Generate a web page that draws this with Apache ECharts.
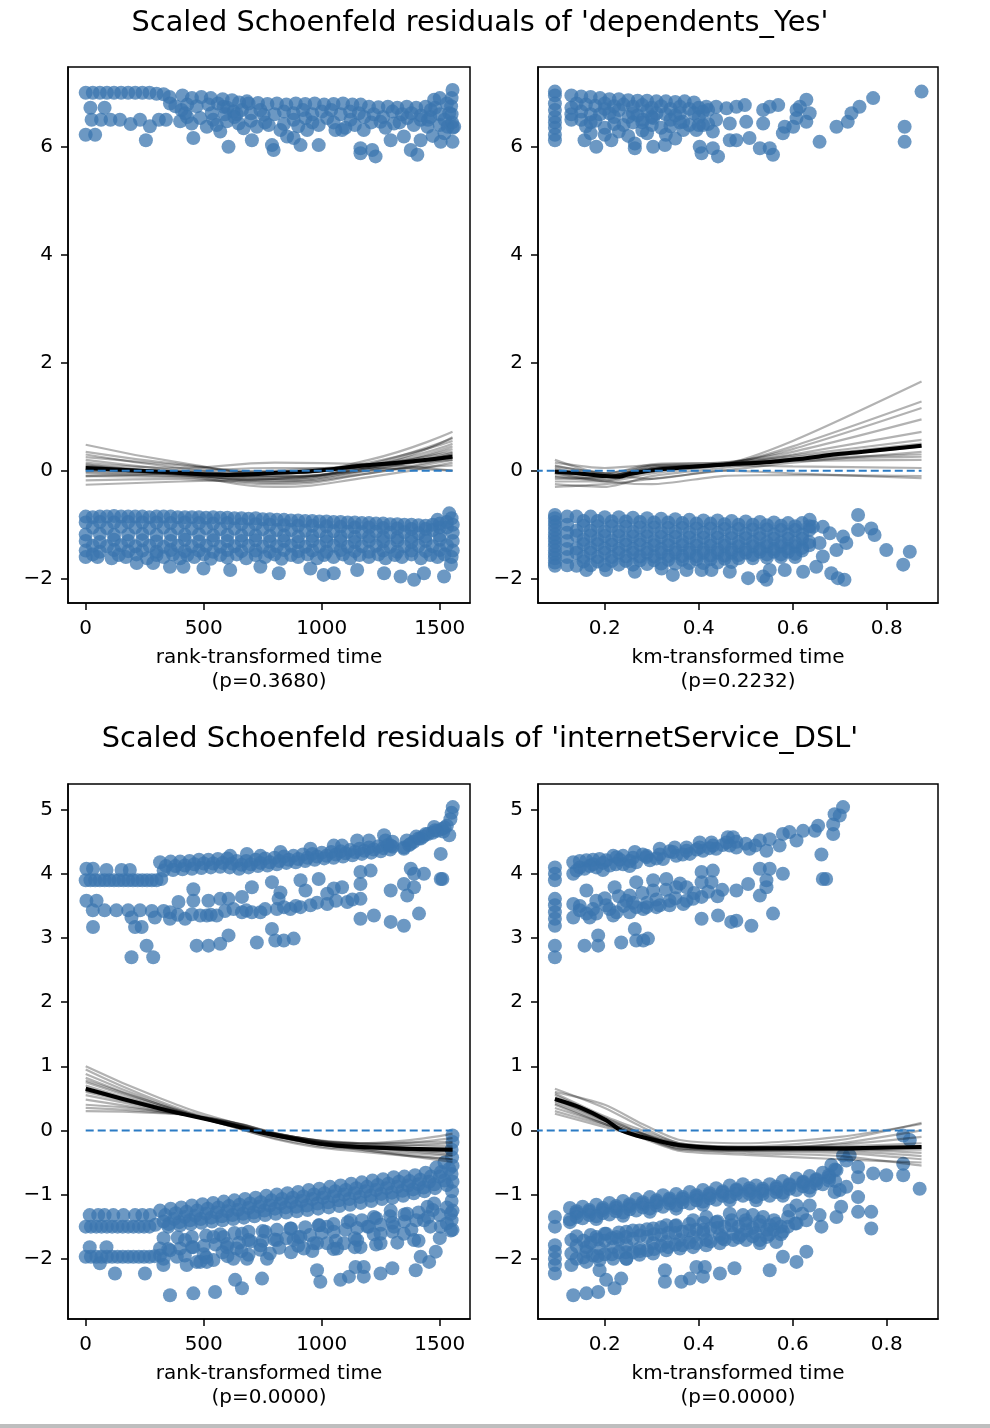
<!DOCTYPE html>
<html>
<head>
<meta charset="utf-8">
<script src="https://cdn.jsdelivr.net/npm/echarts@6.0.0/dist/echarts.min.js"></script>
<style>
html,body{margin:0;padding:0;background:#fff;}
#main{width:990px;height:1428px;}
</style>
</head>
<body>
<div id="main"></div>
<script>
// ---- titles / axis names / ticks ----
var titles = ["Scaled Schoenfeld residuals of 'dependents_Yes'", "Scaled Schoenfeld residuals of 'internetService_DSL'"];
var xNames = ['rank-transformed time\n(p=0.3680)', 'km-transformed time\n(p=0.2232)', 'rank-transformed time\n(p=0.0000)', 'km-transformed time\n(p=0.0000)'];
var rankTicks = [0, 500, 1000, 1500];
var rankTickLabels = ['0', '500', '1000', '1500'];
var kmTicks = [0.2, 0.4, 0.6, 0.8];
var kmTickLabels = ['0.2', '0.4', '0.6', '0.8'];
var depYTicks = [-2, 0, 2, 4, 6];
var depYTickLabels = ['\u22122', '0', '2', '4', '6'];
var dslYTicks = [-2, -1, 0, 1, 2, 3, 4, 5];
var dslYTickLabels = ['\u22122', '\u22121', '0', '1', '2', '3', '4', '5'];

// ---- dependents_Yes, rank-transformed ----
var depRankTop = [
 [0,7.0],[30,7.0],[60,7.0],[90,7.0],[120,7.0],[150,7.0],[180,7.0],[210,7.0],[240,7.0],[270,7.0],[300,6.98],[330,6.97],[355,6.92],
 [20,6.72],[80,6.72],[357,6.8],
 [25,6.5],[65,6.5],[105,6.5],[145,6.5],[190,6.42],[230,6.5],[272,6.38],[310,6.5],[340,6.5],
 [0,6.22],[40,6.22],[255,6.12],
 [410,6.95],[450,6.9],[490,6.92],[530,6.9],[580,6.88],[620,6.86],
 [650,6.82],[690,6.8],[730,6.81],[770,6.79],[810,6.8],[850,6.78],[890,6.8],[930,6.79],[970,6.8],[1010,6.78],[1050,6.79],[1090,6.8],[1130,6.78],[1165,6.78],
 [1200,6.74],[1240,6.73],[1280,6.74],[1320,6.72],[1360,6.74],[1400,6.72],[1440,6.74],[1480,6.72],
 [1554,7.05],[1550,6.9],[1548,6.75],[1550,6.6],[1552,6.45],[1555,6.35],
 [406,6.68],[421,6.62],[400,6.47],[449,6.43],[485,6.53],[513,6.37],[555,6.4],[598,6.47],[570,6.28],[456,6.16],[605,6.0],
 [648,6.43],[662,6.68],[669,6.34],[704,6.12],[725,6.37],[754,6.59],[775,6.4],[789,6.03],[796,5.94],[825,6.31],[853,6.19],
 [881,6.16],[881,6.5],[910,6.03],[931,6.53],[938,6.31],[987,6.03],[987,6.4],[1023,6.53],[1058,6.31],[1086,6.31],[1122,6.5],
 [1157,6.62],[1164,5.97],[1164,5.88],[1178,6.31],[1214,5.94],[1228,5.82],[1249,6.46],[1292,6.12],[1306,6.43],[1348,6.19],
 [1362,6.53],[1377,5.94],[1405,5.85],[1419,6.12],[1419,6.5],[1448,6.37],[1462,6.68],[1476,6.87],[1504,6.09],[1533,6.37],
 [1561,6.37],[1540,6.62],[534,6.62],[584,6.74],[626,6.65],[683,6.84],[1554,6.09],
 [380,6.75],[430,6.78],[470,6.75],[520,6.78],[560,6.8],[600,6.72],[640,6.6],[700,6.62],[740,6.68],[800,6.6],[840,6.65],[880,6.62],
 [920,6.68],[960,6.6],[1000,6.65],[1040,6.68],[1080,6.6],[1120,6.65],[1180,6.55],[1220,6.6],[1260,6.55],[1300,6.65],[1340,6.6],
 [1380,6.62],[1420,6.58],[1460,6.55],[1500,6.6],[1520,6.5],[1500,6.4],[1450,6.5],[1390,6.4],[1330,6.45],[1270,6.35],[1210,6.45],
 [1140,6.4],[1100,6.35],[1050,6.45],[960,6.45],[900,6.38],[840,6.42],[760,6.45],[700,6.48],[630,6.55],[590,6.6],[540,6.5],
 [430,6.55],[1520,6.25],[1470,6.2],[1530,6.8],[1500,6.9]
];
var depRankBottom = [
 [0,-0.85],[60,-0.85],[120,-0.84],[180,-0.85],[240,-0.85],[300,-0.85],[360,-0.85],[420,-0.86],[480,-0.86],[540,-0.86],[600,-0.87],[660,-0.88],[720,-0.88],[780,-0.9],[840,-0.91],[900,-0.92],[960,-0.93],[1020,-0.94],[1080,-0.95],[1140,-0.96],[1200,-0.97],[1260,-0.98],[1320,-0.99],[1380,-1.0],[1440,-1.02],[1500,-0.98],[1550,-0.88],
 [30,-0.86],[90,-0.85],[150,-0.85],[210,-0.85],[270,-0.86],[330,-0.85],[390,-0.86],[450,-0.86],[510,-0.87],[570,-0.87],[630,-0.88],[690,-0.89],[750,-0.9],[810,-0.91],[870,-0.92],[930,-0.93],[990,-0.94],[1050,-0.95],[1110,-0.96],[1170,-0.97],[1230,-0.98],[1290,-0.99],[1350,-1.0],[1410,-1.01],[1470,-1.0],[1530,-0.95],
 [0,-0.96],[60,-0.95],[120,-0.96],[180,-0.95],[240,-0.96],[300,-0.96],[360,-0.97],[420,-0.96],[480,-0.97],[540,-0.98],[600,-0.97],[660,-0.99],[720,-0.99],[780,-1.0],[840,-1.01],[900,-1.02],[960,-1.02],[1020,-1.03],[1080,-1.04],[1140,-1.05],[1200,-1.05],[1260,-1.06],[1320,-1.07],[1380,-1.08],[1440,-1.08],[1500,-1.05],[1555,-1.0],
 [30,-1.05],[90,-1.06],[150,-1.04],[210,-1.05],[270,-1.06],[330,-1.05],[390,-1.06],[450,-1.07],[510,-1.06],[570,-1.08],[630,-1.07],[690,-1.09],[750,-1.08],[810,-1.1],[870,-1.1],[930,-1.11],[990,-1.12],[1050,-1.12],[1110,-1.13],[1170,-1.14],[1230,-1.13],[1290,-1.15],[1350,-1.14],[1410,-1.16],[1470,-1.1],[1530,-1.05],
 [0,-1.18],[60,-1.17],[120,-1.19],[180,-1.18],[240,-1.17],[300,-1.19],[360,-1.18],[420,-1.19],[480,-1.18],[540,-1.2],[600,-1.19],[660,-1.2],[720,-1.2],[780,-1.21],[840,-1.2],[900,-1.22],[960,-1.21],[1020,-1.22],[1080,-1.22],[1140,-1.23],[1200,-1.22],[1260,-1.23],[1320,-1.24],[1380,-1.23],[1440,-1.22],[1500,-1.2],[1555,-1.15],
 [0,-1.3],[60,-1.32],[120,-1.28],[180,-1.3],[240,-1.29],[300,-1.31],[360,-1.3],[420,-1.28],[480,-1.31],[540,-1.29],[600,-1.3],[660,-1.3],[720,-1.29],[780,-1.31],[840,-1.3],[900,-1.32],[960,-1.3],[1020,-1.31],[1080,-1.3],[1140,-1.32],[1200,-1.3],[1260,-1.31],[1320,-1.3],[1380,-1.32],[1440,-1.3],[1500,-1.28],[1555,-1.3],
 [30,-1.39],[90,-1.4],[150,-1.38],[210,-1.4],[270,-1.39],[330,-1.41],[390,-1.39],[450,-1.4],[510,-1.39],[570,-1.41],[630,-1.4],[690,-1.39],[750,-1.41],[810,-1.4],[870,-1.39],[930,-1.41],[990,-1.4],[1050,-1.39],[1110,-1.41],[1170,-1.4],[1230,-1.39],[1290,-1.41],[1350,-1.4],[1410,-1.39],[1470,-1.4],[1530,-1.38],
 [0,-1.48],[60,-1.5],[120,-1.47],[180,-1.49],[240,-1.48],[300,-1.5],[360,-1.47],[420,-1.49],[480,-1.48],[540,-1.5],[600,-1.47],[660,-1.49],[720,-1.48],[780,-1.5],[840,-1.47],[900,-1.49],[960,-1.48],[1020,-1.5],[1080,-1.47],[1140,-1.49],[1200,-1.5],[1260,-1.48],[1320,-1.5],[1380,-1.48],[1440,-1.49],[1500,-1.47],[1555,-1.48],
 [30,-1.55],[140,-1.56],[215,-1.55],[300,-1.56],[370,-1.55],[430,-1.56],[500,-1.55],[570,-1.56],[640,-1.55],[720,-1.56],[800,-1.55],[870,-1.56],[940,-1.55],[1010,-1.56],[1090,-1.55],[1160,-1.56],[1240,-1.55],[1310,-1.56],[1380,-1.55],[1460,-1.56],[1520,-1.55],
 [0,-1.6],[50,-1.6],[110,-1.62],[170,-1.6],[260,-1.62],[330,-1.6],[400,-1.62],[460,-1.6],[530,-1.63],[600,-1.61],[680,-1.62],[760,-1.6],[830,-1.63],[900,-1.6],[980,-1.62],[1050,-1.6],[1120,-1.62],[1200,-1.6],[1270,-1.62],[1340,-1.6],[1420,-1.62],[1490,-1.6],[1550,-1.6],
 [216,-1.71],[286,-1.71],[357,-1.78],[414,-1.78],[499,-1.81],[612,-1.84],[740,-1.78],[818,-1.9],[952,-1.81],[1008,-1.93],[1051,-1.9],[1150,-1.84],[1264,-1.9],[1334,-1.96],[1391,-2.02],[1433,-1.9],[1518,-1.96],[1547,-1.74],[1540,-0.79],[1490,-0.91]
];
var depRankLowess = [[0,0.05],[314,-0.02],[598,-0.08],[810,-0.04],[1000,0.01],[1164,0.09],[1377,0.17],[1554,0.26]];
var depRankBootX = [0, 400, 800, 1200, 1554];
var depRankBootY = [
 [0.48,0.15,-0.05,0.1,0.35],[0.3,0.05,-0.1,0.05,0.45],[0.2,0.0,-0.15,0.12,0.6],[0.12,-0.02,-0.05,0.2,0.72],
 [0.08,-0.05,-0.2,0.0,0.3],[0.05,-0.08,-0.22,-0.05,0.2],[0.0,-0.05,-0.1,0.08,0.5],[-0.05,-0.1,-0.15,0.05,0.4],
 [-0.1,-0.12,-0.3,-0.12,0.15],[-0.18,-0.15,-0.25,-0.05,0.25],[-0.26,-0.2,-0.15,0.0,0.1],[0.15,0.05,0.15,0.12,0.0],
 [0.02,0.0,0.05,0.05,0.0],[0.25,0.1,-0.05,0.15,0.55],[-0.1,-0.05,0.0,0.1,0.2],[0.1,-0.03,-0.12,0.05,0.3],
 [0.35,0.12,-0.02,0.1,0.62],[-0.02,-0.08,-0.18,0.02,0.33]
];

// ---- dependents_Yes, km-transformed ----
var depKmTop = [
 [0.094,7.02],[0.094,6.95],[0.094,6.8],[0.094,6.68],[0.094,6.55],[0.094,6.45],[0.094,6.35],[0.094,6.22],[0.094,6.12],
 [0.129,6.95],[0.129,6.72],[0.129,6.6],[0.129,6.5],
 [0.15,6.93],[0.17,6.92],[0.19,6.9],[0.21,6.88],[0.23,6.88],[0.25,6.86],[0.27,6.85],[0.29,6.85],[0.31,6.84],[0.33,6.84],[0.35,6.83],[0.37,6.84],[0.39,6.82],
 [0.15,6.5],[0.17,6.45],[0.19,6.6],[0.2,6.7],[0.22,6.55],[0.24,6.4],[0.26,6.62],[0.28,6.45],[0.3,6.55],[0.32,6.35],[0.34,6.5],[0.36,6.62],[0.38,6.4],[0.4,6.55],[0.42,6.42],
 [0.157,6.12],[0.182,6.0],[0.214,6.12],[0.264,5.97],[0.264,6.06],[0.303,6.0],[0.328,6.03],[0.281,6.5],[0.303,6.53],[0.367,6.31],[0.395,6.31],[0.367,6.46],
 [0.409,6.65],[0.43,6.28],[0.402,6.0],[0.406,5.88],[0.43,5.97],[0.441,5.82],[0.466,6.12],[0.48,6.12],[0.508,6.16],[0.53,5.97],[0.551,5.97],[0.558,5.85],
 [0.579,6.25],[0.583,6.37],[0.608,6.53],[0.629,6.46],[0.601,6.37],[0.537,6.43],[0.501,6.46],[0.466,6.43],[0.437,6.5],[0.409,6.4],
 [0.416,6.74],[0.437,6.74],[0.459,6.71],[0.48,6.74],[0.498,6.77],[0.537,6.68],[0.551,6.74],[0.569,6.77],[0.608,6.68],[0.615,6.74],[0.629,6.87],[0.636,6.62],
 [0.657,6.09],[0.693,6.37],[0.717,6.46],[0.725,6.62],[0.742,6.74],[0.771,6.9],[0.838,6.37],[0.838,6.09],[0.874,7.02],
 [0.14,6.8],[0.16,6.78],[0.18,6.76],[0.2,6.8],[0.22,6.75],[0.24,6.78],[0.26,6.74],[0.28,6.77],[0.3,6.72],[0.32,6.75],[0.34,6.7],[0.36,6.74],[0.38,6.7],[0.4,6.72],[0.42,6.68],
 [0.15,6.65],[0.17,6.6],[0.21,6.62],[0.23,6.68],[0.25,6.55],[0.27,6.58],[0.29,6.66],[0.31,6.62],[0.33,6.6],[0.35,6.58],[0.39,6.62],
 [0.16,6.38],[0.18,6.48],[0.2,6.35],[0.22,6.42],[0.26,6.45],[0.28,6.3],[0.3,6.4],[0.34,6.38],[0.36,6.45],[0.4,6.4],
 [0.17,6.25],[0.2,6.22],[0.23,6.28],[0.25,6.2],[0.29,6.25],[0.33,6.22],[0.35,6.15]
];
var depKmBottom = [
 [0.094,-0.82],[0.094,-0.95],[0.094,-1.1],[0.094,-1.25],[0.094,-1.4],[0.094,-1.55],[0.094,-1.7],
 [0.094,-0.88],[0.094,-1.02],[0.094,-1.18],[0.094,-1.32],[0.094,-1.48],[0.094,-1.62],[0.094,-1.76],
 [0.12,-0.85],[0.12,-1.0],[0.12,-1.15],[0.12,-1.3],[0.12,-1.45],[0.12,-1.6],[0.12,-1.75],
 [0.14,-0.85],[0.17,-0.85],[0.2,-0.86],[0.23,-0.86],[0.26,-0.87],[0.29,-0.88],[0.32,-0.89],[0.35,-0.9],[0.38,-0.91],[0.41,-0.92],[0.44,-0.92],[0.47,-0.93],[0.5,-0.94],[0.53,-0.95],[0.56,-0.96],[0.59,-0.97],[0.62,-0.97],
 [0.155,-0.93],[0.185,-0.93],[0.215,-0.94],[0.245,-0.94],[0.275,-0.95],[0.305,-0.96],[0.335,-0.96],[0.365,-0.97],[0.395,-0.98],[0.425,-0.98],[0.455,-0.99],[0.485,-1.0],[0.515,-1.0],[0.545,-1.01],[0.575,-1.02],[0.605,-1.03],[0.635,-1.03],
 [0.155,-1.02],[0.185,-1.03],[0.215,-1.03],[0.245,-1.04],[0.275,-1.05],[0.305,-1.05],[0.335,-1.06],[0.365,-1.06],[0.395,-1.07],[0.425,-1.07],[0.455,-1.08],[0.485,-1.08],[0.515,-1.09],[0.545,-1.09],[0.575,-1.1],[0.605,-1.1],[0.635,-1.1],
 [0.14,-1.11],[0.17,-1.11],[0.2,-1.12],[0.23,-1.12],[0.26,-1.13],[0.29,-1.13],[0.32,-1.14],[0.35,-1.14],[0.38,-1.15],[0.41,-1.15],[0.44,-1.16],[0.47,-1.16],[0.5,-1.17],[0.53,-1.17],[0.56,-1.18],[0.59,-1.18],[0.62,-1.18],
 [0.14,-1.2],[0.17,-1.2],[0.2,-1.21],[0.23,-1.21],[0.26,-1.22],[0.29,-1.22],[0.32,-1.23],[0.35,-1.23],[0.38,-1.24],[0.41,-1.24],[0.44,-1.24],[0.47,-1.25],[0.5,-1.25],[0.53,-1.25],[0.56,-1.26],[0.59,-1.26],[0.62,-1.26],
 [0.155,-1.28],[0.185,-1.28],[0.215,-1.29],[0.245,-1.29],[0.275,-1.29],[0.305,-1.3],[0.335,-1.3],[0.365,-1.31],[0.395,-1.31],[0.425,-1.31],[0.455,-1.32],[0.485,-1.32],[0.515,-1.32],[0.545,-1.33],[0.575,-1.33],[0.605,-1.33],[0.635,-1.32],
 [0.155,-1.36],[0.185,-1.36],[0.215,-1.37],[0.245,-1.37],[0.275,-1.37],[0.305,-1.38],[0.335,-1.38],[0.365,-1.38],[0.395,-1.39],[0.425,-1.39],[0.455,-1.39],[0.485,-1.4],[0.515,-1.4],[0.545,-1.4],[0.575,-1.4],[0.605,-1.4],[0.635,-1.38],
 [0.14,-1.44],[0.17,-1.44],[0.2,-1.44],[0.23,-1.45],[0.26,-1.45],[0.29,-1.45],[0.32,-1.45],[0.35,-1.46],[0.38,-1.46],[0.41,-1.46],[0.44,-1.46],[0.47,-1.46],[0.5,-1.46],[0.53,-1.45],[0.56,-1.45],[0.59,-1.44],[0.62,-1.43],
 [0.14,-1.52],[0.17,-1.52],[0.2,-1.52],[0.23,-1.52],[0.26,-1.52],[0.29,-1.52],[0.32,-1.52],[0.35,-1.52],[0.38,-1.52],[0.41,-1.52],[0.44,-1.52],[0.47,-1.52],[0.5,-1.52],[0.53,-1.5],[0.56,-1.5],[0.59,-1.5],[0.62,-1.48],
 [0.155,-1.6],[0.185,-1.6],[0.215,-1.6],[0.245,-1.59],[0.275,-1.59],[0.305,-1.59],[0.335,-1.58],[0.365,-1.58],[0.395,-1.58],[0.425,-1.57],[0.455,-1.57],[0.485,-1.56],[0.515,-1.56],[0.545,-1.55],[0.575,-1.55],[0.605,-1.54],
 [0.155,-1.68],[0.185,-1.68],[0.215,-1.67],[0.245,-1.67],[0.275,-1.66],[0.305,-1.66],[0.335,-1.65],[0.365,-1.65],[0.395,-1.64],[0.425,-1.64],[0.455,-1.63],[0.485,-1.62],[0.515,-1.62],[0.545,-1.61],[0.575,-1.6],[0.605,-1.6],
 [0.14,-1.76],[0.17,-1.75],[0.2,-1.75],[0.23,-1.74],[0.26,-1.74],[0.29,-1.73],[0.32,-1.72],[0.35,-1.72],[0.38,-1.71],[0.41,-1.71],[0.44,-1.7],[0.47,-1.69],
 [0.636,-0.91],[0.643,-1.04],[0.664,-1.04],[0.679,-1.16],[0.693,-1.47],[0.714,-1.34],[0.707,-1.22],[0.739,-0.82],[0.739,-1.1],[0.767,-1.07],[0.774,-1.19],[0.799,-1.47],[0.849,-1.5],[0.835,-1.74],[0.657,-1.34],[0.664,-1.59],
 [0.264,-1.87],[0.321,-1.81],[0.345,-1.93],[0.374,-1.84],[0.406,-1.84],[0.427,-1.84],[0.466,-1.87],[0.505,-1.99],[0.537,-1.96],[0.544,-2.02],[0.551,-1.84],[0.583,-1.84],[0.622,-1.87],[0.65,-1.78],[0.682,-1.9],[0.696,-1.99],[0.71,-2.02],[0.161,-1.84],[0.203,-1.84]
];
var depKmLowess = [[0.094,-0.02],[0.147,-0.05],[0.2,-0.1],[0.232,-0.11],[0.253,-0.06],[0.324,0.03],[0.395,0.08],[0.466,0.12],[0.537,0.15],[0.608,0.21],[0.679,0.29],[0.749,0.35],[0.874,0.46]];
var depKmBootX = [0.094, 0.2, 0.3, 0.45, 0.6, 0.874];
var depKmBootY = [
 [0.2,-0.05,0.08,0.12,0.55,1.65],[-0.1,-0.15,0.0,0.1,0.45,1.28],[0.05,-0.1,0.05,0.12,0.4,1.16],[-0.05,-0.12,0.1,0.15,0.35,0.95],
 [-0.2,-0.2,-0.05,0.1,0.3,0.72],[0.1,-0.05,0.12,0.15,0.28,0.57],[-0.25,-0.3,-0.1,0.05,0.2,0.45],[-0.3,-0.25,-0.15,0.0,0.15,0.35],
 [0.0,-0.08,0.02,0.12,0.2,0.26],[-0.15,-0.12,0.05,0.12,0.18,0.2],[0.15,0.05,0.1,0.1,0.08,0.05],[-0.05,-0.2,-0.25,-0.1,-0.08,-0.1],
 [0.08,-0.05,-0.15,0.0,-0.05,-0.14],[-0.12,-0.18,0.0,0.1,0.22,0.3],[0.02,-0.1,0.04,0.12,0.25,0.5]
];

// ---- internetService_DSL, rank-transformed ----
var dslRankTop = [
 [0,3.9],[40,3.9],[80,3.9],[120,3.9],[160,3.9],[200,3.9],[240,3.9],[280,3.9],[320,3.92],
 [20,3.9],[60,3.9],[100,3.9],[140,3.9],[180,3.9],[220,3.9],[260,3.9],[300,3.9],
 [3,4.08],[31,4.08],[88,4.06],[152,4.06],[187,4.06],
 [315,4.18],[360,4.19],[400,4.19],[440,4.2],[480,4.22],[520,4.22],[560,4.23],[600,4.24],[640,4.2],[680,4.2],[720,4.22],[760,4.24],[800,4.25],[840,4.27],[880,4.28],[920,4.3],[960,4.31],[1000,4.33],[1040,4.34],[1080,4.35],[1120,4.37],[1160,4.39],[1200,4.41],[1240,4.43],[1280,4.45],[1300,4.5],
 [340,4.12],[380,4.12],[420,4.13],[460,4.15],[500,4.16],[540,4.16],[580,4.17],[620,4.16],[660,4.14],[700,4.15],[740,4.17],[780,4.18],[820,4.2],[860,4.22],[900,4.23],[940,4.25],[980,4.27],[1020,4.28],[1060,4.3],[1100,4.32],[1140,4.34],[1180,4.36],[1220,4.38],[1260,4.4],[1300,4.42],
 [330,4.05],[370,4.06],[410,4.07],[450,4.08],[490,4.09],[530,4.1],[570,4.11],[610,4.1],[650,4.08],[690,4.1],[730,4.12],[770,4.13],[810,4.15],[850,4.17],[890,4.18],[930,4.2],[970,4.22],[1010,4.24],[1050,4.25],[1090,4.27],[1130,4.29],[1170,4.31],[1210,4.33],[1250,4.35],[1290,4.38],
 [612,4.28],[683,4.31],[740,4.28],[825,4.34],[952,4.39],[1051,4.44],[1086,4.44],[1150,4.52],[1200,4.52],[1264,4.6],[1270,4.52],[1292,4.44],
 [1348,4.41],[1370,4.45],[1390,4.5],[1410,4.55],[1430,4.58],[1450,4.62],[1470,4.64],[1490,4.67],[1510,4.7],[1530,4.75],[1545,4.85],[1550,4.95],[1555,5.04],[1540,4.6],[1515,4.66],
 [1360,4.52],[1400,4.58],[1440,4.62],[1480,4.68],[1520,4.72],
 [1348,4.39],[1377,4.47],[1419,4.55],[1476,4.73],[1504,4.31],[1511,3.92],
 [1377,4.08],[1391,4.0],[1433,4.0],[1362,3.66],[1391,3.79],[1348,3.84],[1292,3.74],[1164,4.03],[1207,4.05],[1164,3.84],
 [3,3.58],[46,3.58],[30,3.43],[80,3.43],[130,3.43],[180,3.43],[230,3.43],[280,3.42],[330,3.42],
 [31,3.17],[194,3.32],[209,3.17],[237,3.17],[258,2.88],[286,2.7],[194,2.7],[293,3.32],[357,3.4],[357,3.3],[393,3.56],[421,3.3],
 [456,3.76],[456,3.58],[485,3.35],[513,3.35],[555,3.35],[520,3.58],[570,3.61],[605,3.61],[626,3.45],[662,3.4],[662,3.64],[704,3.79],
 [704,3.4],[740,3.4],[789,3.87],[825,3.71],[817,3.61],[810,3.45],[867,3.45],[910,3.9],[931,3.74],[910,3.48],[952,3.51],[987,3.92],
 [1023,3.69],[1023,3.53],[1051,3.77],[1086,3.79],[1108,3.56],[1164,3.61],
 [390,3.36],[450,3.37],[530,3.36],[590,3.42],[680,3.43],[760,3.45],[840,3.48],[890,3.5],[980,3.55],[1060,3.58],[1130,3.6],
 [470,2.88],[520,2.88],[570,2.91],[605,3.04],[725,2.93],[789,3.14],[803,2.96],[839,2.96],[881,2.99],[1164,3.3],[1221,3.35],[1292,3.25],[1348,3.19],[1412,3.38],[1504,3.92]
];
var dslRankBottom = [
 [315,-1.25],[360,-1.22],[405,-1.2],[450,-1.17],[495,-1.15],[540,-1.13],[585,-1.11],[630,-1.09],[675,-1.07],[720,-1.05],[765,-1.02],[810,-1.0],[855,-0.98],[900,-0.96],[945,-0.93],[990,-0.91],[1035,-0.88],[1080,-0.86],[1125,-0.83],[1170,-0.81],[1215,-0.78],[1260,-0.76],[1305,-0.73],[1350,-0.72],[1395,-0.7],[1440,-0.66],[1485,-0.58],[1520,-0.5],
 [337,-1.32],[382,-1.29],[427,-1.27],[472,-1.25],[517,-1.22],[562,-1.2],[607,-1.18],[652,-1.16],[697,-1.14],[742,-1.12],[787,-1.09],[832,-1.07],[877,-1.05],[922,-1.03],[967,-1.0],[1012,-0.98],[1057,-0.95],[1102,-0.93],[1147,-0.9],[1192,-0.88],[1237,-0.85],[1282,-0.83],[1327,-0.8],[1372,-0.79],[1417,-0.77],[1462,-0.72],[1505,-0.65],
 [0,-1.5],[45,-1.5],[90,-1.5],[135,-1.5],[180,-1.5],[225,-1.5],[270,-1.5],[330,-1.42],[375,-1.38],[420,-1.35],[465,-1.33],[510,-1.3],[555,-1.28],[600,-1.26],[645,-1.24],[690,-1.21],[735,-1.19],[780,-1.17],[825,-1.14],[870,-1.12],[915,-1.1],[960,-1.07],[1005,-1.05],[1050,-1.03],[1095,-1.0],[1140,-0.98],[1185,-0.95],[1230,-0.93],[1275,-0.9],[1320,-0.88],[1365,-0.86],[1410,-0.84],[1455,-0.8],[1500,-0.72],[1540,-0.6],
 [22,-1.5],[67,-1.5],[112,-1.5],[157,-1.5],[202,-1.5],[247,-1.5],[295,-1.47],
 [17,-1.32],[53,-1.32],[80,-1.32],[117,-1.32],[160,-1.32],[209,-1.32],[240,-1.32],[272,-1.32],
 [352,-1.46],[397,-1.43],[442,-1.4],[487,-1.38],[532,-1.36],[577,-1.34],[622,-1.32],[667,-1.3],[712,-1.28],[757,-1.25],[802,-1.22],[847,-1.2],[892,-1.19],[937,-1.17],[982,-1.14],[1027,-1.12],[1072,-1.09],[1117,-1.07],[1162,-1.04],[1207,-1.02],[1252,-0.99],[1297,-0.97],[1342,-0.94],[1387,-0.92],[1432,-0.89],[1477,-0.84],[1520,-0.78],
 [350,-1.5],[400,-1.48],[445,-1.46],[490,-1.44],[535,-1.42],[580,-1.4],[625,-1.38],[670,-1.36],[715,-1.34],[760,-1.32],[805,-1.3],[850,-1.28],[895,-1.26],[940,-1.24],[985,-1.22],[1030,-1.2],[1075,-1.18],[1120,-1.16],[1165,-1.13],[1210,-1.1],[1255,-1.07],[1300,-1.05],[1345,-1.02],[1390,-0.98],[1435,-0.95],[1480,-0.9],[1530,-0.85],
 [1554,-0.08],[1554,-0.18],[1550,-0.3],[1552,-0.42],[1554,-0.55],[1550,-0.68],[1554,-0.8],[1552,-0.95],[1550,-1.1],[1554,-1.25],[1550,-1.4],[1554,-1.55],
 [0,-1.97],[45,-1.97],[90,-1.97],[135,-1.97],[180,-1.97],[225,-1.97],[270,-1.97],[315,-1.95],[17,-1.82],[88,-1.82],[60,-2.07],[124,-2.23],[251,-2.23],
 [22,-1.97],[67,-1.97],[112,-1.97],[157,-1.97],[202,-1.97],[247,-1.97],[292,-1.96],
 [330,-1.68],[390,-1.67],[450,-1.66],[510,-1.64],[570,-1.62],[630,-1.6],[690,-1.58],[750,-1.57],[810,-1.55],[870,-1.53],[930,-1.51],[990,-1.48],[1050,-1.46],[1110,-1.43],[1170,-1.4],[1230,-1.37],[1290,-1.34],[1350,-1.31],[1410,-1.28],[1470,-1.24],[1530,-1.2],
 [350,-1.85],[400,-1.84],[450,-1.82],[500,-1.8],[550,-1.78],[600,-1.77],[650,-1.75],[700,-1.73],[750,-1.72],[800,-1.7],[850,-1.68],[900,-1.66],[950,-1.63],[1000,-1.6],[1050,-1.58],[1100,-1.55],[1150,-1.52],[1200,-1.5],[1250,-1.47],[1300,-1.44],[1350,-1.42],[1400,-1.4],[1450,-1.35],[1500,-1.32],
 [420,-1.95],[500,-1.93],[580,-1.9],[660,-1.88],[740,-1.86],[820,-1.83],[900,-1.8],[980,-1.76],[1060,-1.72],[1140,-1.68],[1220,-1.62],[1300,-1.58],[1380,-1.55],[1460,-1.5],[1530,-1.45],
 [330,-2.0],[510,-1.98],[600,-1.96],[690,-1.94],[780,-1.92],[870,-1.9],[960,-1.88],[1050,-1.85],[1140,-1.82],[1230,-1.78],[1320,-1.75],[1410,-1.72],[1500,-1.68],
 [315,-1.84],[357,-1.87],[386,-1.97],[421,-1.71],[428,-2.1],[456,-1.82],[470,-2.05],[513,-2.05],[541,-2.02],[541,-1.66],[584,-1.66],[598,-1.82],
 [626,-2.0],[640,-1.84],[662,-1.61],[683,-2.0],[690,-1.71],[740,-1.79],[768,-2.0],[761,-1.58],[810,-1.71],[881,-1.71],[867,-1.53],[910,-1.66],
 [924,-1.84],[966,-1.76],[987,-1.48],[1023,-1.5],[1023,-1.76],[1065,-1.84],[1094,-1.76],[1122,-1.4],[1150,-1.71],[1193,-1.5],[1221,-1.35],
 [1249,-1.61],[1292,-1.25],[1306,-1.5],[1362,-1.3],[1348,-1.61],[1391,-1.71],[1448,-1.19],[1476,-1.14],[1504,-1.5],[1547,-1.3],[1547,-1.56],
 [1433,-1.4],[1249,-1.76],[1164,-1.82],
 [357,-2.57],[456,-2.54],[548,-2.52],[633,-2.33],[662,-2.46],[747,-2.31],[980,-2.18],[994,-2.36],[1079,-2.33],[1115,-2.28],[1143,-2.13],
 [1178,-2.13],[1178,-2.28],[1249,-2.23],[1299,-2.15],[1398,-2.18],[1419,-1.97],[1455,-2.05],[1483,-1.89],[329,-2.1],[485,-2.05]
];
var dslRankLowess = [[0,0.65],[315,0.34],[598,0.1],[740,-0.03],[881,-0.13],[994,-0.21],[1164,-0.26],[1554,-0.3]];
var dslRankBootX = [0, 315, 598, 881, 1164, 1554];
var dslRankBootY = [
 [1.0,0.5,0.15,-0.1,-0.2,-0.25],[0.95,0.45,0.12,-0.12,-0.25,-0.35],[0.88,0.42,0.1,-0.15,-0.3,-0.45],[0.82,0.4,0.12,-0.1,-0.22,-0.3],
 [0.75,0.38,0.1,-0.14,-0.28,-0.4],[0.7,0.36,0.12,-0.1,-0.2,-0.18],[0.6,0.33,0.1,-0.15,-0.27,-0.32],[0.55,0.32,0.12,-0.12,-0.25,-0.2],
 [0.48,0.3,0.14,-0.1,-0.2,-0.05],[0.4,0.3,0.12,-0.15,-0.3,-0.49],[0.35,0.28,0.15,-0.12,-0.25,-0.38],[0.3,0.27,0.14,-0.1,-0.22,-0.12],
 [0.62,0.36,0.08,-0.2,-0.33,-0.45],[0.78,0.4,0.08,-0.18,-0.28,-0.28]
];

// ---- internetService_DSL, km-transformed ----
var dslKmTop = [
 [0.094,4.1],[0.094,4.0],[0.094,3.9],[0.094,3.61],[0.094,3.51],[0.094,3.4],[0.094,3.3],[0.094,3.19],[0.094,2.88],[0.094,2.7],
 [0.133,4.18],[0.161,4.21],[0.189,4.23],[0.218,4.28],[0.239,4.28],[0.264,4.34],[0.289,4.28],[0.317,4.39],[0.349,4.41],[0.374,4.41],[0.402,4.49],[0.427,4.49],[0.462,4.57],[0.473,4.57],
 [0.133,4.0],[0.157,4.08],[0.182,4.1],[0.211,4.13],[0.239,4.15],[0.267,4.18],[0.296,4.21],[0.324,4.23],[0.352,4.28],[0.381,4.31],[0.409,4.36],[0.437,4.39],[0.466,4.44],[0.48,4.41],
 [0.147,4.1],[0.175,4.15],[0.203,4.21],[0.232,4.22],[0.26,4.25],[0.289,4.26],[0.317,4.3],[0.345,4.34],[0.374,4.36],[0.402,4.41],[0.43,4.44],[0.459,4.49],
 [0.147,4.2],[0.175,4.22],[0.196,4.17],[0.225,4.26],[0.253,4.2],[0.281,4.3],[0.31,4.24],[0.338,4.35],[0.366,4.3],[0.395,4.38],[0.423,4.4],[0.451,4.45],[0.48,4.5],[0.5,4.47],[0.52,4.44],
 [0.14,4.05],[0.168,4.12],[0.196,4.06],[0.224,4.15],[0.253,4.12],
 [0.508,4.39],[0.53,4.52],[0.544,4.36],[0.551,4.54],[0.572,4.44],[0.579,4.62],[0.593,4.65],[0.608,4.52],[0.622,4.67],[0.647,4.67],[0.654,4.75],[0.686,4.62],[0.686,4.77],[0.689,4.93],[0.707,5.04],[0.7,4.91],[0.661,4.3],[0.671,3.92],
 [0.133,3.53],[0.133,3.32],[0.161,3.74],[0.161,3.38],[0.182,3.58],[0.182,3.38],[0.203,3.51],[0.221,3.79],[0.225,3.4],[0.246,3.58],[0.253,3.66],[0.267,3.87],[0.267,3.48],[0.289,3.48],
 [0.303,3.9],[0.303,3.74],[0.317,3.51],[0.331,3.92],[0.338,3.58],[0.352,3.79],[0.374,3.79],[0.374,3.58],[0.388,3.61],[0.406,4.03],[0.406,3.87],[0.43,4.05],[0.427,3.87],[0.406,3.64],
 [0.48,3.74],[0.505,3.84],[0.53,4.08],[0.53,3.66],[0.551,4.08],[0.544,3.9],[0.544,3.79],[0.579,4.0],[0.558,3.38],[0.512,3.19],[0.469,3.25],[0.48,3.27],[0.441,3.35],[0.406,3.3],[0.664,3.92],
 [0.218,3.35],[0.253,3.4],[0.282,3.45],[0.31,3.48],[0.338,3.51],[0.367,3.53],[0.147,3.43],[0.168,3.32],
 [0.147,3.5],[0.175,3.45],[0.21,3.45],[0.24,3.5],[0.26,3.55],[0.29,3.55],[0.31,3.6],[0.35,3.62],[0.39,3.7],[0.42,3.72],[0.45,3.75],[0.2,3.62],[0.23,3.65],[0.28,3.7],[0.33,3.75],[0.36,3.85],[0.44,3.65],
 [0.157,2.88],[0.186,2.88],[0.186,3.04],[0.235,2.93],[0.264,3.14],[0.267,2.96],[0.282,2.96],[0.292,2.99]
];
var dslKmBottom = [
 [0.094,-1.35],[0.094,-1.5],[0.094,-1.79],[0.094,-1.89],[0.094,-2.0],[0.094,-2.1],[0.094,-2.23],
 [0.126,-1.21],[0.153,-1.19],[0.182,-1.16],[0.21,-1.13],[0.239,-1.1],[0.267,-1.07],[0.296,-1.04],[0.324,-1.01],[0.352,-0.99],[0.381,-0.96],[0.409,-0.93],[0.437,-0.9],[0.466,-0.86],[0.494,-0.84],[0.522,-0.86],[0.551,-0.84],[0.579,-0.79],[0.608,-0.75],[0.636,-0.71],[0.664,-0.66],[0.69,-0.61],
 [0.14,-1.26],[0.167,-1.24],[0.196,-1.21],[0.224,-1.18],[0.253,-1.15],[0.281,-1.12],[0.31,-1.09],[0.338,-1.06],[0.366,-1.04],[0.395,-1.01],[0.423,-0.98],[0.451,-0.95],[0.48,-0.92],[0.508,-0.9],[0.536,-0.91],[0.565,-0.88],[0.593,-0.84],[0.622,-0.8],[0.65,-0.76],[0.677,-0.7],
 [0.14,-1.29],[0.167,-1.27],[0.196,-1.24],[0.224,-1.21],[0.253,-1.18],[0.281,-1.15],[0.31,-1.12],[0.338,-1.09],[0.366,-1.07],[0.395,-1.04],[0.423,-1.01],[0.451,-0.97],[0.48,-0.94],[0.508,-0.94],[0.536,-0.94],[0.565,-0.91],[0.593,-0.86],[0.622,-0.82],[0.65,-0.78],[0.677,-0.73],
 [0.14,-1.35],[0.167,-1.32],[0.196,-1.29],[0.224,-1.26],[0.253,-1.23],[0.281,-1.2],[0.31,-1.17],[0.338,-1.14],[0.366,-1.12],[0.395,-1.09],[0.423,-1.06],[0.451,-1.02],[0.48,-0.99],[0.508,-0.99],[0.536,-0.99],[0.565,-0.96],[0.593,-0.91],[0.622,-0.87],[0.65,-0.83],[0.677,-0.78],
 [0.126,-1.39],[0.153,-1.37],[0.182,-1.34],[0.21,-1.31],[0.239,-1.28],[0.267,-1.25],[0.296,-1.22],[0.324,-1.19],[0.352,-1.17],[0.381,-1.14],[0.409,-1.11],[0.437,-1.08],[0.466,-1.04],[0.494,-1.02],[0.522,-1.04],[0.551,-1.02],[0.579,-0.97],[0.608,-0.93],[0.636,-0.89],[0.664,-0.84],[0.69,-0.79],
 [0.126,-1.43],[0.182,-1.38],[0.239,-1.33],[0.296,-1.27],[0.352,-1.22],[0.409,-1.16],[0.466,-1.09],[0.522,-1.09],[0.579,-1.02],[0.636,-0.94],
 [0.129,-1.71],[0.161,-1.82],[0.182,-1.66],[0.203,-1.61],[0.225,-1.66],[0.246,-1.58],[0.274,-1.56],[0.303,-1.53],[0.331,-1.48],[0.352,-1.48],[0.388,-1.4],[0.416,-1.35],[0.437,-1.43],[0.466,-1.3],[0.494,-1.32],[0.515,-1.32],[0.537,-1.35],[0.565,-1.45],[0.593,-1.25],[0.608,-1.17],[0.636,-1.17],[0.657,-1.32],
 [0.14,-1.65],[0.17,-1.63],[0.2,-1.61],[0.23,-1.59],[0.26,-1.56],[0.29,-1.54],[0.32,-1.51],[0.35,-1.49],[0.38,-1.46],[0.41,-1.44],[0.44,-1.42],[0.47,-1.4],[0.5,-1.4],[0.53,-1.42],[0.56,-1.4],[0.59,-1.35],[0.62,-1.3],
 [0.155,-1.72],[0.185,-1.7],[0.215,-1.68],[0.245,-1.66],[0.275,-1.64],[0.305,-1.62],[0.335,-1.6],[0.365,-1.58],[0.395,-1.55],[0.425,-1.53],[0.455,-1.5],[0.485,-1.5],[0.515,-1.52],[0.545,-1.55],[0.575,-1.5],[0.605,-1.45],
 [0.14,-1.8],[0.17,-1.75],[0.2,-1.72],[0.23,-1.7],[0.26,-1.69],[0.29,-1.66],[0.32,-1.63],[0.35,-1.6],[0.38,-1.56],[0.41,-1.55],[0.44,-1.52],[0.47,-1.48],[0.5,-1.45],[0.53,-1.48],[0.56,-1.55],[0.59,-1.5],
 [0.129,-1.92],[0.161,-1.89],[0.189,-1.84],[0.218,-1.82],[0.246,-1.79],[0.274,-1.84],[0.303,-1.76],[0.331,-1.74],[0.36,-1.71],[0.388,-1.66],[0.416,-1.71],[0.445,-1.63],[0.473,-1.61],[0.501,-1.56],[0.53,-1.71],[0.551,-1.48],[0.579,-1.58],[0.608,-1.45],[0.629,-1.4],
 [0.155,-1.98],[0.185,-1.96],[0.215,-1.93],[0.245,-1.9],[0.275,-1.88],[0.305,-1.85],[0.335,-1.82],[0.365,-1.79],[0.395,-1.76],[0.425,-1.73],[0.455,-1.7],[0.485,-1.67],[0.515,-1.65],[0.545,-1.66],[0.575,-1.62],
 [0.14,-2.0],[0.175,-1.95],[0.2,-1.93],[0.23,-1.9],[0.26,-1.9],[0.29,-1.87],[0.32,-1.8],[0.35,-1.78],[0.38,-1.75],[0.41,-1.6],[0.45,-1.68],[0.49,-1.63],[0.52,-1.6],[0.55,-1.62],
 [0.129,-2.1],[0.161,-2.05],[0.189,-2.02],[0.218,-2.0],[0.246,-2.0],[0.274,-1.94],[0.303,-1.92],[0.331,-1.87],[0.36,-1.84],[0.388,-1.82],[0.416,-1.79],[0.445,-1.76],[0.473,-1.71],[0.501,-1.71],[0.53,-1.76],[0.565,-1.74],[0.189,-2.18],
 [0.693,-0.62],[0.7,-0.93],[0.714,-0.88],[0.739,-0.57],[0.739,-0.73],[0.739,-1.04],[0.739,-1.27],[0.767,-1.27],[0.767,-1.53],[0.771,-0.67],[0.799,-0.7],[0.835,-0.52],[0.835,-0.7],[0.835,-0.08],[0.849,-0.15],[0.87,-0.91],
 [0.689,-0.96],[0.661,-1.5],[0.693,-1.35],[0.703,-1.19],[0.707,-0.39],[0.721,-0.39],[0.714,-0.47],[0.682,-0.54],
 [0.133,-2.57],[0.161,-2.54],[0.186,-2.52],[0.203,-2.33],[0.221,-2.46],[0.235,-2.31],[0.328,-2.18],[0.328,-2.36],[0.363,-2.36],[0.381,-2.31],[0.395,-2.13],[0.413,-2.13],[0.409,-2.28],[0.445,-2.23],[0.476,-2.15],[0.551,-2.18],[0.579,-1.97],[0.608,-2.05],[0.629,-1.89],[0.246,-2.0]
];
var dslKmLowess = [[0.094,0.49],[0.147,0.36],[0.203,0.16],[0.232,0.01],[0.267,-0.08],[0.324,-0.18],[0.36,-0.23],[0.43,-0.27],[0.537,-0.28],[0.679,-0.28],[0.874,-0.26]];
var dslKmBootX = [0.094, 0.2, 0.28, 0.36, 0.5, 0.7, 0.874];
var dslKmBootY = [
 [0.65,0.35,0.05,-0.2,-0.25,-0.15,0.12],[0.6,0.4,0.1,-0.15,-0.2,-0.1,0.1],[0.55,0.2,-0.05,-0.25,-0.3,-0.3,-0.35],[0.5,0.15,-0.1,-0.28,-0.35,-0.4,-0.55],
 [0.45,0.15,-0.05,-0.22,-0.28,-0.25,-0.2],[0.4,0.1,-0.1,-0.3,-0.32,-0.3,-0.3],[0.35,0.1,-0.12,-0.32,-0.38,-0.45,-0.5],[0.3,0.08,-0.08,-0.25,-0.3,-0.2,0.0],
 [0.26,0.05,-0.1,-0.28,-0.3,-0.32,-0.4],[0.58,0.22,0.0,-0.2,-0.26,-0.22,-0.1],[0.48,0.18,-0.04,-0.22,-0.28,-0.3,-0.25],[0.42,0.12,-0.06,-0.24,-0.32,-0.35,-0.45]
];

// zero reference lines (x from 0 to last time)
var rankZero = [[0,0],[1554,0]];
var kmZero = [[0,0],[0.874,0]];

var font = 'DejaVu Sans';
var myChart = echarts.init(document.getElementById('main'));

var grids = [
 {left:68, top:67, width:402, height:536},
 {left:538, top:67, width:400, height:536},
 {left:68, top:784, width:402, height:535},
 {left:538, top:784, width:400, height:535}
];

function mkX(i, mn, mx, ticks, labels) {
	return {
		gridIndex:i, type:'value', min:mn, max:mx,
		name:xNames[i], nameLocation:'middle', nameGap:43,
		nameTextStyle:{fontFamily:font, fontSize:20, color:'#000', lineHeight:24},
		axisLine:{show:true, onZero:false, lineStyle:{color:'#000', width:1.5}},
		axisTick:{show:true, length:7, customValues:ticks, lineStyle:{color:'#000', width:1.5}},
		axisLabel:{customValues:ticks, margin:16, fontFamily:font, fontSize:20, color:'#000',
			formatter:function(v){ var k = ticks.indexOf(v); return k >= 0 ? labels[k] : ''; }},
		splitLine:{show:false}
	};
}
function mkY(i, mn, mx, ticks, labels) {
	return {
		gridIndex:i, type:'value', min:mn, max:mx,
		axisLine:{show:true, onZero:false, lineStyle:{color:'#000', width:1.5}},
		axisTick:{show:true, length:7, customValues:ticks, lineStyle:{color:'#000', width:1.5}},
		axisLabel:{customValues:ticks, margin:15, fontFamily:font, fontSize:20, color:'#000',
			formatter:function(v){ var k = ticks.indexOf(v); return k >= 0 ? labels[k] : ''; }},
		splitLine:{show:false}
	};
}

var series = [];
function addPanel(i, pts, lowess, bootX, bootY, zero, smooth) {
	series.push({type:'scatter', xAxisIndex:i, yAxisIndex:i, data:pts, symbolSize:14, silent:true,
		itemStyle:{color:'#3b75af', opacity:0.75}});
	series.push({type:'line', xAxisIndex:i, yAxisIndex:i, data:lowess, showSymbol:false, symbol:'none', smooth:smooth, silent:true,
		lineStyle:{color:'#000', width:4}});
	for (var b = 0; b < bootY.length; b++) {
		var d = [];
		for (var j = 0; j < bootX.length; j++) d.push([bootX[j], bootY[b][j]]);
		series.push({type:'line', xAxisIndex:i, yAxisIndex:i, data:d, showSymbol:false, symbol:'none', smooth:smooth, silent:true,
			lineStyle:{color:'rgba(0,0,0,0.3)', width:2.2}});
	}
	series.push({type:'line', xAxisIndex:i, yAxisIndex:i, data:zero, showSymbol:false, symbol:'none', silent:true, clip:true,
		lineStyle:{color:'#2b7bc4', width:2, type:[8,4]}});
}
addPanel(0, depRankTop.concat(depRankBottom), depRankLowess, depRankBootX, depRankBootY, rankZero, true);
addPanel(1, depKmTop.concat(depKmBottom), depKmLowess, depKmBootX, depKmBootY, kmZero, 0.25);
addPanel(2, dslRankTop.concat(dslRankBottom), dslRankLowess, dslRankBootX, dslRankBootY, rankZero, true);
addPanel(3, dslKmTop.concat(dslKmBottom), dslKmLowess, dslKmBootX, dslKmBootY, kmZero, 0.25);

var option = {
	animation:false,
	backgroundColor:'#fff',
	grid: grids.map(function(g){ return {left:g.left, top:g.top, width:g.width, height:g.height, show:true, borderColor:'#000', borderWidth:1.5, backgroundColor:'#fff'}; }),
	xAxis:[
		mkX(0, -75, 1628, rankTicks, rankTickLabels),
		mkX(1, 0.058, 0.909, kmTicks, kmTickLabels),
		mkX(2, -75, 1628, rankTicks, rankTickLabels),
		mkX(3, 0.058, 0.909, kmTicks, kmTickLabels)
	],
	yAxis:[
		mkY(0, -2.45, 7.476, depYTicks, depYTickLabels),
		mkY(1, -2.45, 7.476, depYTicks, depYTickLabels),
		mkY(2, -2.94, 5.40, dslYTicks, dslYTickLabels),
		mkY(3, -2.94, 5.40, dslYTicks, dslYTickLabels)
	],
	graphic:[
		{type:'text', x:480, y:24, style:{text:titles[0], font:'28.8px "DejaVu Sans"', fill:'#000', textAlign:'center', textVerticalAlign:'middle'}},
		{type:'text', x:480, y:740, style:{text:titles[1], font:'28.8px "DejaVu Sans"', fill:'#000', textAlign:'center', textVerticalAlign:'middle'}},
		{type:'rect', shape:{x:0, y:1424, width:990, height:4}, style:{fill:'#bebebe'}}
	],
	series: series
};
myChart.setOption(option);
</script>
</body>
</html>
